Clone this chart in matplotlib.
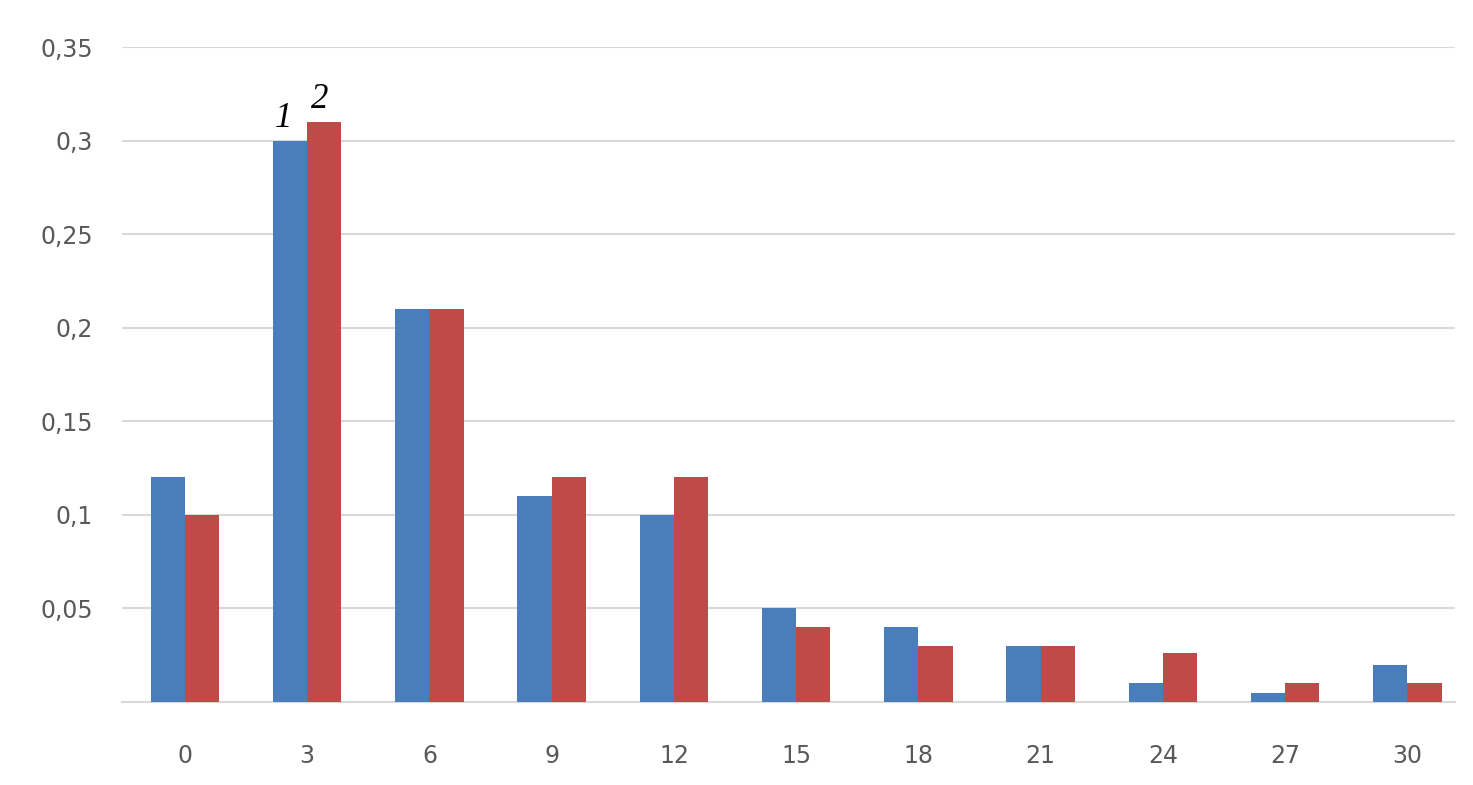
import matplotlib.pyplot as plt
import numpy as np

categories = ['0', '3', '6', '9', '12', '15', '18', '21', '24', '27', '30']
series1 = [0.12, 0.30, 0.21, 0.11, 0.10, 0.05, 0.04, 0.03, 0.01, 0.005, 0.02]
series2 = [0.10, 0.31, 0.21, 0.12, 0.12, 0.04, 0.03, 0.03, 0.026, 0.01, 0.01]
yticks = [0.05, 0.1, 0.15, 0.2, 0.25, 0.3, 0.35]
ytick_labels = ['0,05', '0,1', '0,15', '0,2', '0,25', '0,3', '0,35']

fig = plt.figure(figsize=(14.73, 7.85), dpi=100)
ax = fig.add_axes([0.0828, 0.1057, 0.9050, 0.8344])

x = np.arange(len(categories))
w = 0.28
ax.bar(x - w / 2, series1, width=w, color='#4a7ebb', zorder=3)
ax.bar(x + w / 2, series2, width=w, color='#be4b48', zorder=3)

# curve numbers above the tallest pair
ax.annotate('1', (x[1] - w / 2, series1[1]), xytext=(-5, 4), textcoords='offset points',
            ha='center', va='bottom', fontsize=25, style='italic', family='Liberation Serif')
ax.annotate('2', (x[1] + w / 2, series2[1]), xytext=(-3, 4), textcoords='offset points',
            ha='center', va='bottom', fontsize=25, style='italic', family='Liberation Serif')

ax.set_xlim(-0.515, 10.39)
ax.set_ylim(0, 0.35)
ax.set_xticks(x)
ax.set_xticklabels(categories)
ax.set_yticks(yticks)
ax.set_yticklabels(ytick_labels)
ax.yaxis.grid(True, color='#d9d9d9', linewidth=1.5, zorder=0)
ax.tick_params(axis='both', length=0, labelsize=17, labelcolor='#595959')
ax.tick_params(axis='x', pad=30)
ax.tick_params(axis='y', pad=21)
for lab in ax.get_xticklabels() + ax.get_yticklabels():
    lab.set_family('DejaVu Sans')

for side in ['top', 'right', 'left']:
    ax.spines[side].set_visible(False)
ax.spines['bottom'].set_color('#d9d9d9')
ax.spines['bottom'].set_linewidth(1.5)

fig.savefig('out.png', dpi=100)
